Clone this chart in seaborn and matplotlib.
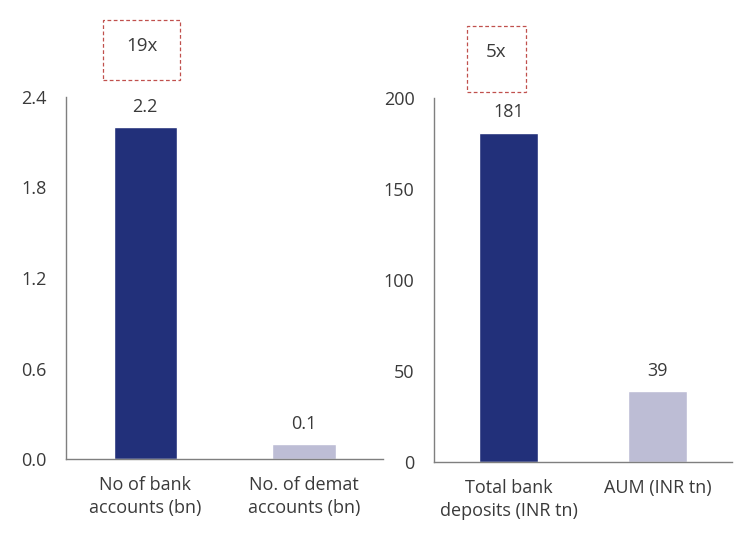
import matplotlib
matplotlib.use("Agg")
import matplotlib.pyplot as plt
from matplotlib.patches import Rectangle
import seaborn as sns
import pandas as pd

# Left panel: account counts
acct_labels = ["No of bank\naccounts (bn)", "No. of demat\naccounts (bn)"]
acct_values = [2.2, 0.1]
acct_ticks = [0.0, 0.6, 1.2, 1.8, 2.4]
acct_ratio = "19x"

# Right panel: deposits vs. AUM
money_labels = ["Total bank\ndeposits (INR tn)", "AUM (INR tn)"]
money_values = [181, 39]
money_ticks = [0, 50, 100, 150, 200]
money_ratio = "5x"

bar_colors = ["#22307a", "#bdbdd5"]
text_color = "#3a3a3a"
spine_color = "#7f7f7f"
font_size = 13

sns.set_theme(style="white")
plt.rcParams["font.family"] = ["Open Sans", "DejaVu Sans"]

fig = plt.figure(figsize=(7.34, 5.42), dpi=100)
ax1 = fig.add_axes([0.0899, 0.1531, 0.432, 0.668])
ax2 = fig.add_axes([0.5913, 0.1476, 0.406, 0.6716])


def draw_panel(ax, labels, values, ticks, fmt):
    df = pd.DataFrame({"cat": labels, "val": values})
    sns.barplot(data=df, x="cat", y="val", hue="cat", palette=bar_colors,
                width=0.4, legend=False, ax=ax, saturation=1)
    ax.set_xlim(-0.5, 1.5)
    ax.set_ylim(ticks[0], ticks[-1])
    ax.set_yticks(ticks)
    ax.set_yticklabels([fmt(t) for t in ticks])
    ax.set_xlabel("")
    ax.set_ylabel("")
    for side in ("top", "right"):
        ax.spines[side].set_visible(False)
    for side in ("left", "bottom"):
        ax.spines[side].set_color(spine_color)
        ax.spines[side].set_linewidth(1.0)
    ax.tick_params(axis="both", length=0, labelsize=font_size, colors=text_color)
    ax.tick_params(axis="y", pad=14)
    ax.tick_params(axis="x", pad=12)
    for lbl in ax.get_xticklabels():
        lbl.set_linespacing(1.4)
    for i, v in enumerate(values):
        ax.annotate(fmt(v), (i, v), xytext=(0, 8), textcoords="offset points",
                    ha="center", va="bottom", fontsize=font_size, color=text_color)


draw_panel(ax1, acct_labels, acct_values, acct_ticks, lambda t: f"{t:.1f}")
draw_panel(ax2, money_labels, money_values, money_ticks, lambda t: f"{t:g}")


def ratio_box(x0, y0, x1, y1, ty, text):
    W, H = 734, 542
    fig.patches.append(Rectangle((x0 / W, 1 - y1 / H), (x1 - x0) / W, (y1 - y0) / H,
                                 transform=fig.transFigure, fill=False,
                                 edgecolor="#c0504d", linestyle=(0, (3, 2)),
                                 linewidth=0.9))
    fig.text((x0 + x1) / 2 / W, 1 - ty / H, text, ha="center", va="center",
             fontsize=font_size + 0.5, color=text_color)


ratio_box(103, 20, 180, 80, 46, acct_ratio)
ratio_box(467, 26, 526, 92, 52, money_ratio)

fig.savefig("out.png", dpi=100, facecolor="white")
